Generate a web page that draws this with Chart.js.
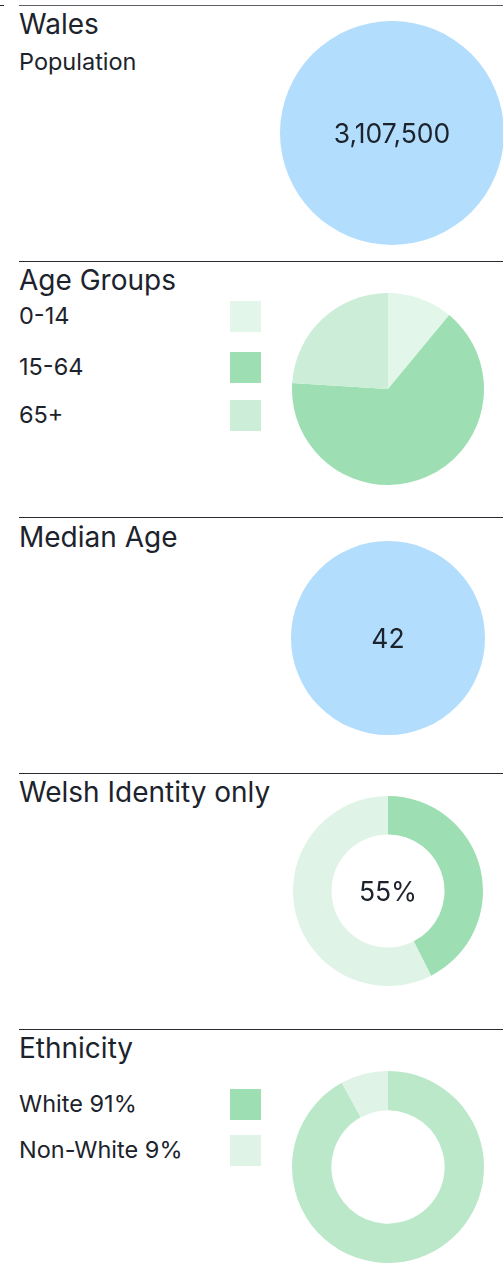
<!DOCTYPE html>
<html>
<head>
<meta charset="utf-8">
<script src="https://cdn.jsdelivr.net/npm/chart.js@4"></script>
<style>
    html, body { margin: 0; padding: 0; background: #fff; overflow: hidden; }
    body { width: 503px; height: 1263px; position: relative; font-family: Inter, "Noto Sans", sans-serif; color: #1c232c; }
    .rule { position: absolute; left: 19px; right: 0; height: 0; border-top: 1.5px solid #262b32; }
    .title { position: absolute; left: 19px; font-size: 28px; line-height: 1; white-space: nowrap; }
    .label { position: absolute; left: 19px; font-size: 23.5px; line-height: 1; white-space: nowrap; }
    .swatch { position: absolute; left: 230px; width: 31px; height: 31px; }
    .chart { position: absolute; }
    .center { position: absolute; display: flex; align-items: center; justify-content: center; font-size: 26.5px; pointer-events: none; }
</style>
</head>
<body>
<div class="rule" style="left:0;width:4px;top:5px"></div>
<div class="rule" style="top:5px;border-top-color:#5b6068"></div>
<div class="title" style="top:10px">Wales</div>
<div class="label" style="top:50px">Population</div>
<canvas id="popChart" class="chart" width="224" height="224" style="left:280px;top:21px"></canvas>
<div class="center" style="left:280px;top:21px;width:224px;height:224px">3,107,500</div>

<div class="rule" style="top:261px"></div>
<div class="title" style="top:266px">Age Groups</div>
<div id="ageLegend"></div>
<canvas id="ageChart" class="chart" width="192" height="192" style="left:292px;top:293px"></canvas>

<div class="rule" style="top:517px"></div>
<div class="title" style="top:523px">Median Age</div>
<canvas id="medianChart" class="chart" width="194" height="194" style="left:291px;top:541px"></canvas>
<div class="center" style="left:291px;top:541px;width:194px;height:194px">42</div>

<div class="rule" style="top:773px"></div>
<div class="title" style="top:778px">Welsh Identity only</div>
<canvas id="identityChart" class="chart" width="190" height="190" style="left:293px;top:796px"></canvas>
<div class="center" style="left:293px;top:796px;width:190px;height:190px">55%</div>

<div class="rule" style="top:1029px"></div>
<div class="title" style="top:1034px">Ethnicity</div>
<div id="ethLegend"></div>
<canvas id="ethChart" class="chart" width="192" height="192" style="left:292px;top:1071px"></canvas>

<script>
var blue = "#b2ddfd";

var populationValues = [3107500];
var medianValues = [42];

var ageLabels = ["0-14", "15-64", "65+"];
var ageValues = [11, 65, 24];
var ageColors = ["#e3f6ea", "#9ddfb2", "#ccedd8"];
var ageLegendTops = [301, 352, 400];

var identityLabels = ["Welsh only", "Other"];
var identityValues = [42.5, 57.5];
var identityColors = ["#9ddfb2", "#dff3e6"];

var ethLabels = ["White 91%", "Non-White 9%"];
var ethValues = [92, 8];
var ethColors = ["#bae8c9", "#dff3e6"];
var ethLegendColors = ["#9ddfb2", "#dff3e6"];
var ethLegendTops = [1089, 1135];

Chart.defaults.animation = false;
Chart.defaults.plugins.legend.display = false;
Chart.defaults.plugins.tooltip.enabled = false;
Chart.defaults.events = [];

function makeLegend(id, labels, colors, tops) {
    var box = document.getElementById(id);
    for (var i = 0; i < labels.length; i++) {
        var sw = document.createElement("div");
        sw.className = "swatch";
        sw.style.top = tops[i] + "px";
        sw.style.background = colors[i];
        box.appendChild(sw);
        var lb = document.createElement("div");
        lb.className = "label";
        lb.style.top = (tops[i] + 3) + "px";
        lb.textContent = labels[i];
        box.appendChild(lb);
    }
}

function pie(id, type, labels, values, colors, cutout) {
    new Chart(document.getElementById(id), {
        type: type,
        data: {
            labels: labels,
            datasets: [{
                data: values,
                backgroundColor: colors,
                borderWidth: 0
            }]
        },
        options: {
            responsive: false,
            cutout: cutout,
            layout: { padding: 0 }
        }
    });
}

makeLegend("ageLegend", ageLabels, ageColors, ageLegendTops);
makeLegend("ethLegend", ethLabels, ethLegendColors, ethLegendTops);

pie("popChart", "pie", ["Population"], populationValues, [blue], 0);
pie("ageChart", "pie", ageLabels, ageValues, ageColors, 0);
pie("medianChart", "pie", ["Median Age"], medianValues, [blue], 0);
pie("identityChart", "doughnut", identityLabels, identityValues, identityColors, "59.5%");
pie("ethChart", "doughnut", ethLabels, ethValues, ethColors, "59%");
</script>
</body>
</html>
